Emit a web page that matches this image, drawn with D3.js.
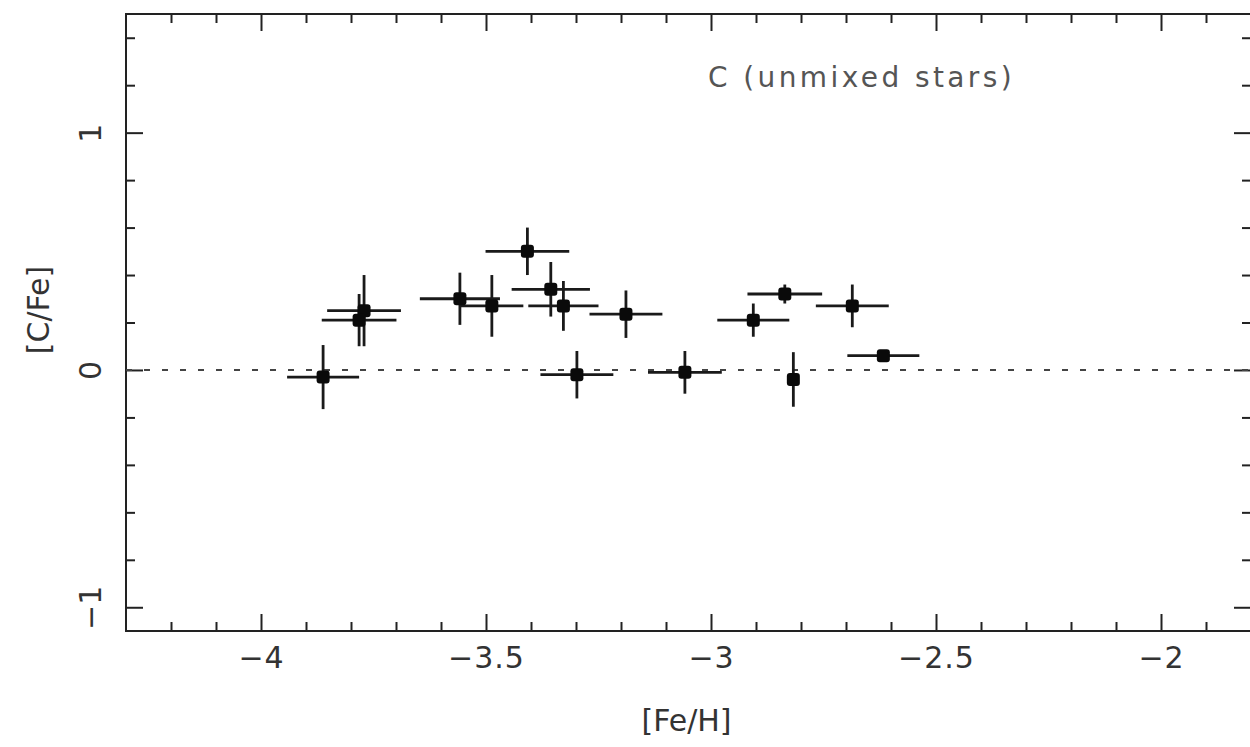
<!DOCTYPE html>
<html>
<head>
<meta charset="utf-8">
<script src="https://cdn.jsdelivr.net/npm/d3@7"></script>
<style>
  body { margin: 0; background: #fff; }
  svg { display: block; }
  .tick text { font-family: "DejaVu Sans", sans-serif; fill: #333; }
</style>
</head>
<body>
<div id="chart"></div>
<script>
// [Fe/H] and [C/Fe] of the unmixed stars, with their error bars
const feH   = [-3.862, -3.771, -3.782, -3.558, -3.487, -3.408, -3.356, -3.328, -3.298, -3.189, -3.058, -2.906, -2.836, -2.817, -2.686, -2.617];
const cFe   = [-0.03, 0.25, 0.21, 0.30, 0.27, 0.50, 0.34, 0.27, -0.02, 0.235, -0.01, 0.21, 0.32, -0.04, 0.27, 0.06];
const feHErr = [0.080, 0.082, 0.083, 0.089, 0.070, 0.093, 0.087, 0.078, 0.081, 0.081, 0.082, 0.080, 0.083, 0.0, 0.081, 0.080];
const cFeErr = [0.135, 0.15, 0.11, 0.11, 0.13, 0.10, 0.115, 0.105, 0.10, 0.10, 0.09, 0.07, 0.04, 0.115, 0.09, 0.0];

const xMajor = [-4, -3.5, -3, -2.5, -2];
const yMajor = [-1, 0, 1];
const xDomain = [-4.3, -1.8];
const yDomain = [-1.1, 1.5];
const refLevel = 0;
const note = "C (unmixed stars)";

const width = 1250, height = 747;
const mLeft = 126, mRight = 1251, mTop = 14, mBottom = 631;

const svg = d3.select("#chart").append("svg")
    .attr("width", width)
    .attr("height", height);

const x = d3.scaleLinear().domain(xDomain).range([mLeft, mRight]);
const y = d3.scaleLinear().domain(yDomain).range([mBottom, mTop]);

// minor tick positions (every 0.1 in x, every 0.2 in y)
const xMinor = d3.range(-42, -18).map(d => d / 10).filter(d => !xMajor.includes(d));
const yMinor = d3.range(-5, 8).map(d => d / 5).filter(d => !yMajor.includes(d));

function ticks(axis, vals, size, labels) {
    return axis.tickValues(vals).tickSizeInner(-size).tickSizeOuter(0)
        .tickFormat(labels ? d3.format("") : "");
}

const gx = svg.append("g").attr("transform", "translate(0," + mBottom + ")");
gx.append("g").call(ticks(d3.axisBottom(x), xMinor, 9, false));
const gxLab = gx.append("g").call(ticks(d3.axisBottom(x), xMajor, 17, true).tickPadding(16));

const gxt = svg.append("g").attr("transform", "translate(0," + mTop + ")");
gxt.append("g").call(ticks(d3.axisTop(x), xMinor, 9, false));
gxt.append("g").call(ticks(d3.axisTop(x), xMajor, 17, false));

const gy = svg.append("g").attr("transform", "translate(" + mLeft + ",0)");
gy.append("g").call(ticks(d3.axisLeft(y), yMinor, 9, false));
const gyLab = gy.append("g").call(ticks(d3.axisLeft(y), yMajor, 17, true));

const gyr = svg.append("g").attr("transform", "translate(" + mRight + ",0)");
gyr.append("g").call(ticks(d3.axisRight(y), yMinor, 9, false));
gyr.append("g").call(ticks(d3.axisRight(y), yMajor, 17, false));

svg.selectAll(".domain").remove();
svg.selectAll(".tick line").attr("stroke", "#222").attr("stroke-width", 2);

gxLab.selectAll(".tick text")
    .attr("font-size", 30)
    .attr("letter-spacing", 1);

gyLab.selectAll(".tick text")
    .attr("font-size", 30)
    .attr("x", 0)
    .attr("dy", "0.36em")
    .attr("text-anchor", "middle")
    .attr("transform", "translate(-36,0) rotate(-90)");

// frame
svg.append("rect")
    .attr("x", mLeft).attr("y", mTop)
    .attr("width", mRight - mLeft).attr("height", mBottom - mTop)
    .attr("fill", "none")
    .attr("stroke", "#222")
    .attr("stroke-width", 2);

// reference line at [C/Fe] = 0
svg.append("line")
    .attr("x1", mLeft).attr("x2", mRight)
    .attr("y1", y(refLevel)).attr("y2", y(refLevel))
    .attr("stroke", "#444")
    .attr("stroke-width", 2)
    .attr("stroke-dasharray", "6,12");

const pts = feH.map((d, i) => ({fe: d, c: cFe[i], ex: feHErr[i], ey: cFeErr[i]}));

const stars = svg.append("g");
stars.selectAll(".ex")
    .data(pts.filter(d => d.ex > 0))
    .enter().append("line")
    .attr("x1", d => x(d.fe - d.ex)).attr("x2", d => x(d.fe + d.ex))
    .attr("y1", d => y(d.c)).attr("y2", d => y(d.c))
    .attr("stroke", "#1a1a1a").attr("stroke-width", 2.8);

stars.selectAll(".ey")
    .data(pts.filter(d => d.ey > 0))
    .enter().append("line")
    .attr("x1", d => x(d.fe)).attr("x2", d => x(d.fe))
    .attr("y1", d => y(d.c - d.ey)).attr("y2", d => y(d.c + d.ey))
    .attr("stroke", "#1a1a1a").attr("stroke-width", 2.8);

stars.selectAll("rect")
    .data(pts)
    .enter().append("rect")
    .attr("x", d => x(d.fe) - 6.5)
    .attr("y", d => y(d.c) - 6.5)
    .attr("width", 13).attr("height", 13)
    .attr("rx", 3)
    .attr("fill", "#0a0a0a");

// labels
svg.append("text")
    .attr("x", (mLeft + mRight) / 2 - 2).attr("y", 731)
    .attr("text-anchor", "middle")
    .attr("font-family", "DejaVu Sans, sans-serif")
    .attr("font-size", 30)
    .attr("fill", "#333")
    .text("[Fe/H]");

svg.append("text")
    .attr("transform", "translate(49,310) rotate(-90)")
    .attr("text-anchor", "middle")
    .attr("font-family", "DejaVu Sans, sans-serif")
    .attr("font-size", 30)
    .attr("fill", "#333")
    .text("[C/Fe]");

svg.append("text")
    .attr("x", 708).attr("y", 87)
    .attr("font-family", "DejaVu Sans, sans-serif")
    .attr("font-size", 28)
    .attr("letter-spacing", 3.4)
    .attr("fill", "#555")
    .text(note);
</script>
</body>
</html>
